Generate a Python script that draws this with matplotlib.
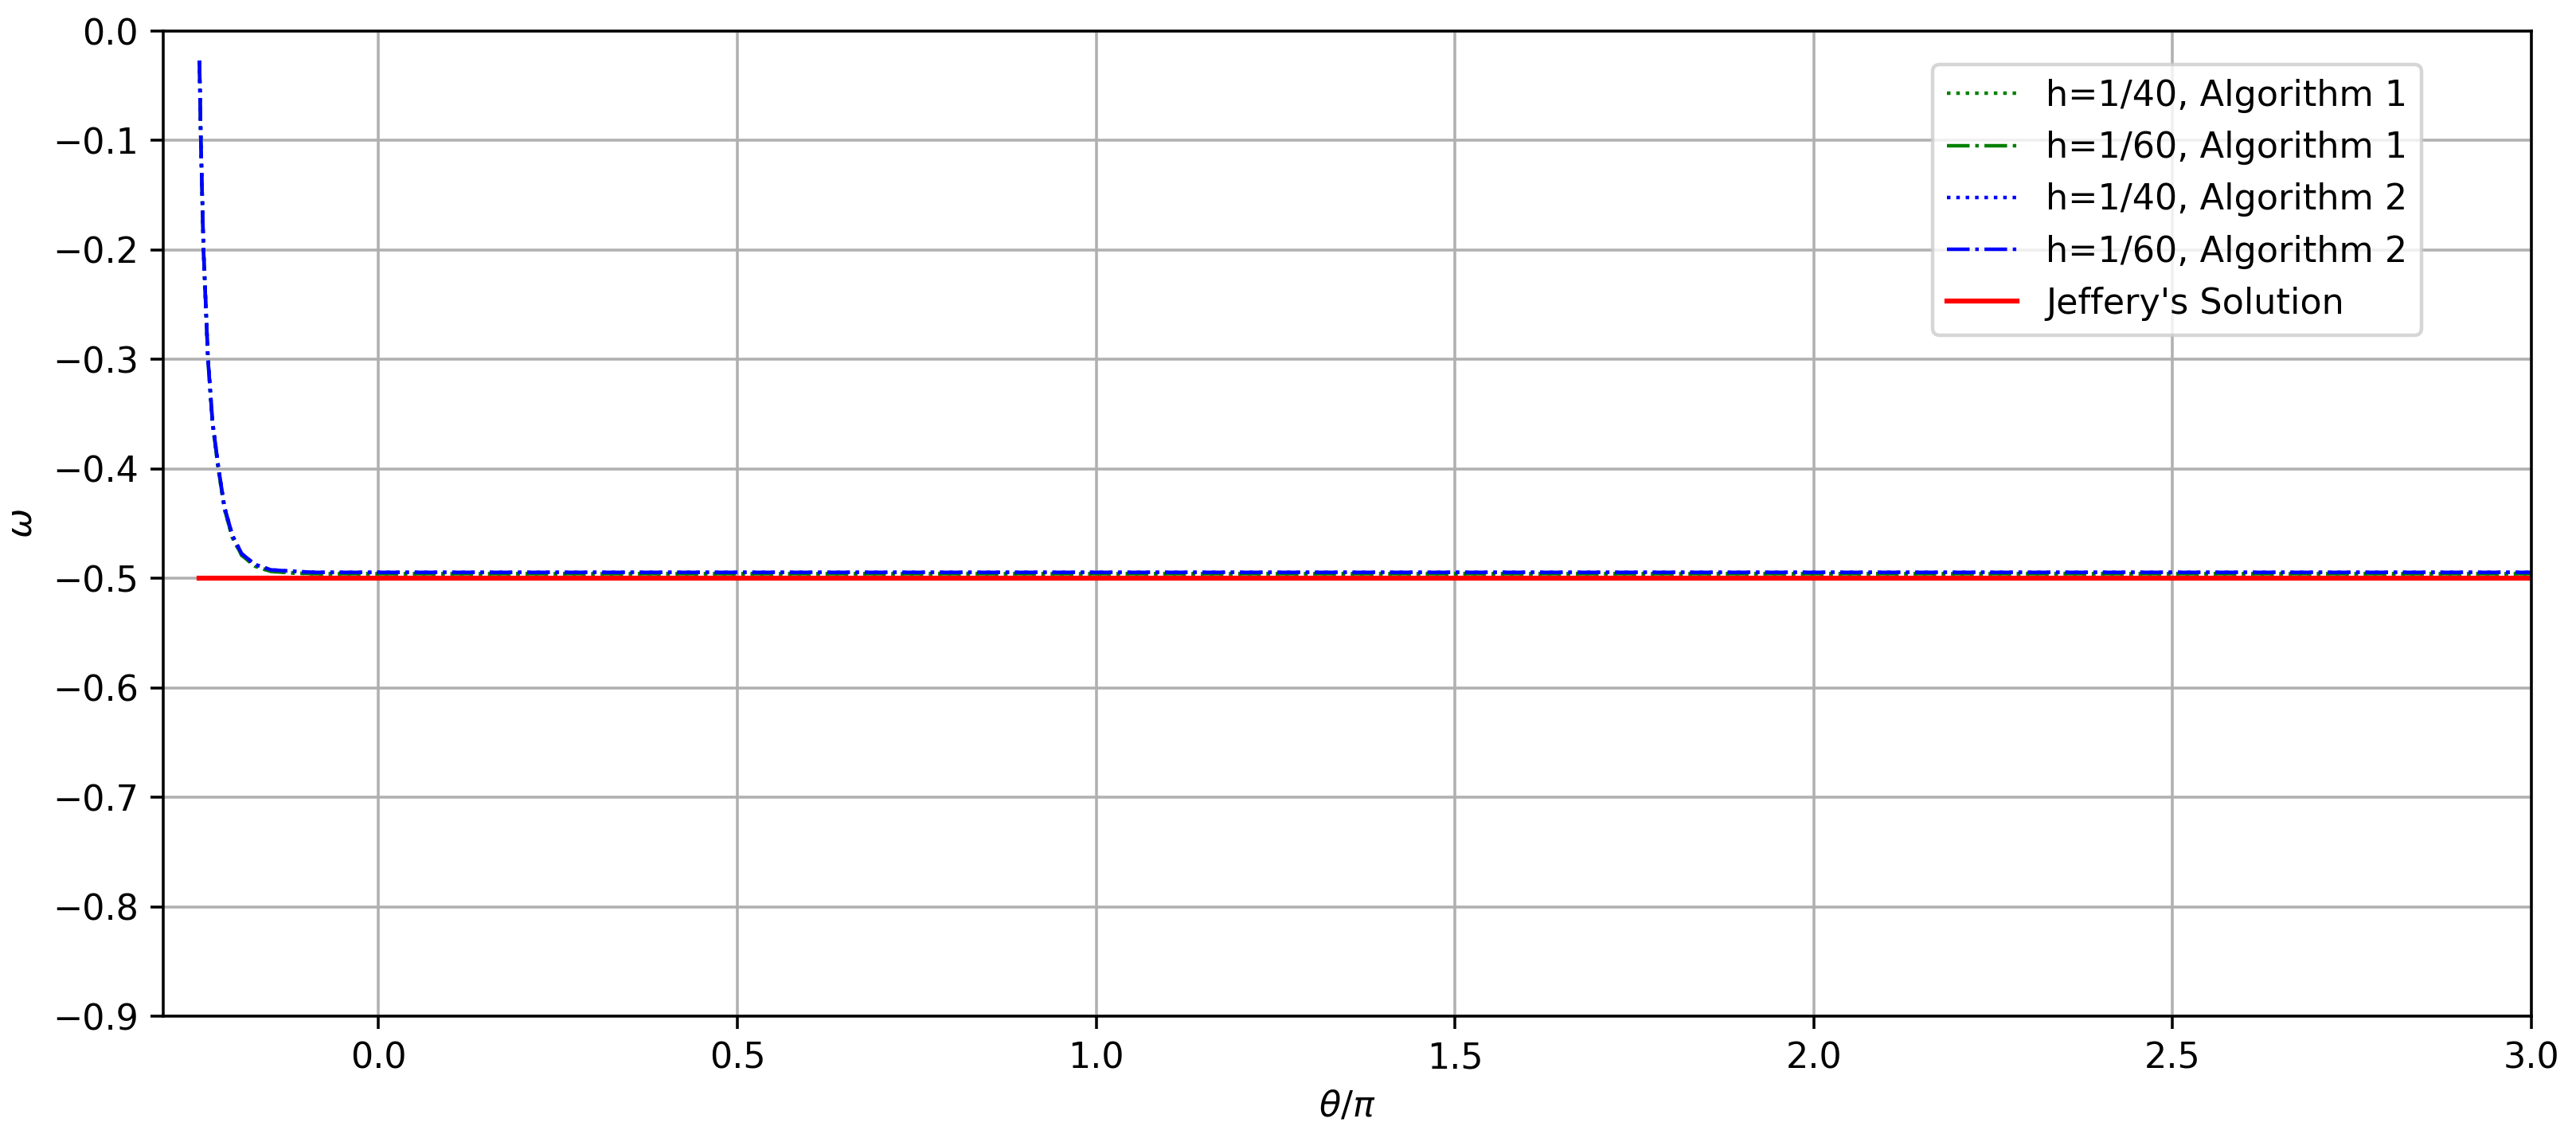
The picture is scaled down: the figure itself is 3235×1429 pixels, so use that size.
import matplotlib
matplotlib.use("Agg")
import matplotlib.pyplot as plt

# theta/pi values
x_alg = [-0.25, -0.2496, -0.2477, -0.2440, -0.2377, -0.2314, -0.2229, -0.2147,
         -0.2036, -0.1907, -0.1722, -0.1501, -0.1131, -0.0872, 3.0]

# Algorithm 2 (blue)
w_alg2_h40 = [-0.027, -0.029, -0.100, -0.200, -0.300, -0.357, -0.400, -0.435,
              -0.461, -0.4775, -0.4873, -0.4922, -0.4938, -0.4945, -0.4945]
w_alg2_h60 = [-0.027, -0.029, -0.100, -0.200, -0.300, -0.357, -0.400, -0.435,
              -0.461, -0.4775, -0.4873, -0.4922, -0.4938, -0.4945, -0.4945]

# Algorithm 1 (green), sits just under the blue curves
w_alg1_h40 = [-0.027, -0.029, -0.100, -0.200, -0.301, -0.359, -0.402, -0.437,
              -0.463, -0.4790, -0.4888, -0.4937, -0.4953, -0.4958, -0.4958]
w_alg1_h60 = [-0.027, -0.029, -0.100, -0.200, -0.301, -0.359, -0.402, -0.437,
              -0.463, -0.4790, -0.4888, -0.4937, -0.4953, -0.4958, -0.4958]

x_jeffery = [-0.25, 3.0]
w_jeffery = [-0.5, -0.5]

fig = plt.figure(figsize=(3235 / 320, 1429 / 320), dpi=320)
ax = fig.add_axes([0.0634, 0.107, 0.9193, 0.8657])

ax.plot(x_alg, w_alg1_h40, color="green", linestyle=":", linewidth=1, label="h=1/40, Algorithm 1")
ax.plot(x_alg, w_alg1_h60, color="green", linestyle="-.", linewidth=1, label="h=1/60, Algorithm 1")
ax.plot(x_alg, w_alg2_h40, color="blue", linestyle=":", linewidth=1, label="h=1/40, Algorithm 2")
ax.plot(x_alg, w_alg2_h60, color="blue", linestyle="-.", linewidth=1, label="h=1/60, Algorithm 2")
ax.plot(x_jeffery, w_jeffery, color="red", linestyle="-", linewidth=1.4, label="Jeffery's Solution")

ax.set_xlim(-0.3, 3.0)
ax.set_ylim(-0.9, 0.0)
ax.set_xlabel(r"$\theta/\pi$")
ax.set_ylabel(r"$\omega$")
ax.grid(True)
ax.legend(loc="upper right", bbox_to_anchor=(0.9536, 0.966), borderaxespad=0)

fig.savefig("out.png", dpi=320)
